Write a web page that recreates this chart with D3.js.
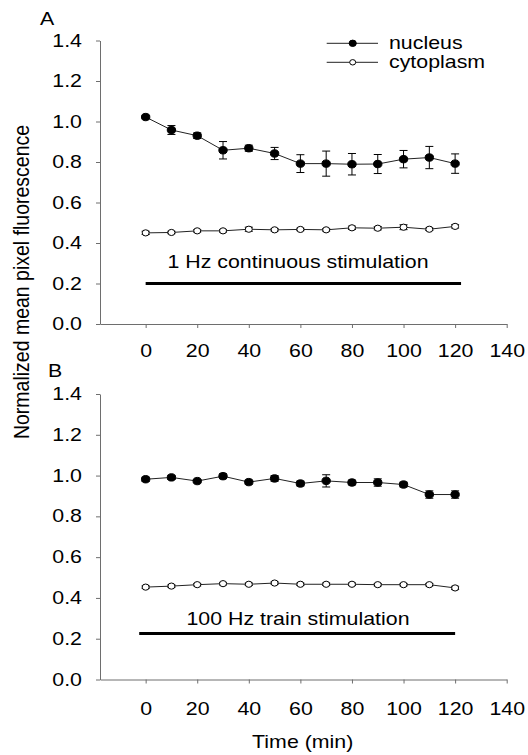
<!DOCTYPE html>
<html>
<head>
<meta charset="utf-8">
<script src="https://cdn.jsdelivr.net/npm/d3@7"></script>
<style>
  body { margin: 0; background: #fff; }
  text { font-family: "Liberation Sans", Arial, sans-serif; fill: #000; }
</style>
</head>
<body>
<div id="chart"></div>
<script>
// time points (min)
var times = [0, 10, 20, 30, 40, 50, 60, 70, 80, 90, 100, 110, 120];

// panel A - 1 Hz continuous stimulation
var nucA    = [1.022, 0.958, 0.930, 0.858, 0.868, 0.842, 0.792, 0.792, 0.789, 0.790, 0.814, 0.822, 0.792];
var nucAErr = [0.008, 0.022, 0.014, 0.043, 0.015, 0.030, 0.044, 0.062, 0.053, 0.047, 0.043, 0.055, 0.048];
var cytA    = [0.450, 0.452, 0.460, 0.460, 0.468, 0.465, 0.467, 0.465, 0.475, 0.473, 0.478, 0.468, 0.482];
var cytAErr = [0.008, 0.006, 0.006, 0.006, 0.010, 0.006, 0.006, 0.006, 0.008, 0.008, 0.012, 0.006, 0.008];

// panel B - 100 Hz train stimulation
var nucB    = [0.982, 0.991, 0.973, 0.997, 0.968, 0.986, 0.961, 0.974, 0.966, 0.966, 0.956, 0.907, 0.907];
var nucBErr = [0.010, 0.010, 0.008, 0.012, 0.010, 0.014, 0.012, 0.030, 0.012, 0.018, 0.012, 0.018, 0.018];
var cytB    = [0.453, 0.458, 0.465, 0.470, 0.467, 0.473, 0.467, 0.467, 0.467, 0.465, 0.465, 0.465, 0.449];
var cytBErr = [0.006, 0.006, 0.006, 0.006, 0.006, 0.006, 0.006, 0.006, 0.006, 0.006, 0.006, 0.006, 0.008];

// stimulation bars [start, end, level] and labels
var stimA = [0, 122.3, 0.2];
var stimB = [-2.5, 120, 0.225];
var stimLabels = ["1 Hz continuous stimulation", "100 Hz train stimulation"];

var xTicks = [0, 20, 40, 60, 80, 100, 120, 140];
var yTicks = [0, 0.2, 0.4, 0.6, 0.8, 1.0, 1.2, 1.4];

var svgWidth = 528;
var svgHeight = 755;
var SX = 1.22;    // text in the figure is stretched horizontally
var fs = 17.5;

var svg = d3.select("#chart")
  .append("svg")
  .attr("width", svgWidth)
  .attr("height", svgHeight);

// make text look wider like the reference
function stretch(sel) {
  sel.each(function() {
    var t = d3.select(this);
    var x = +t.attr("x") || 0, y = +t.attr("y") || 0;
    t.attr("x", 0).attr("y", 0)
      .attr("transform", `translate(${x},${y}) scale(${SX},1)`);
  });
}

var xScale = d3.scaleLinear().domain([-17.7, 140]).range([100, 506.7]);

function drawPanel(cfg) {
  var yScale = d3.scaleLinear().domain([0, 1.4]).range([cfg.bottom, cfg.top]);

  var g = svg.append("g");

  // axes
  var xAxis = g.append("g")
    .attr("transform", `translate(0, ${cfg.bottom})`)
    .call(d3.axisBottom(xScale).tickValues(xTicks).tickSize(4).tickSizeOuter(0).tickFormat(d3.format("d")));
  xAxis.selectAll("text").attr("y", cfg.xLabOff).attr("dy", 0);

  var yAxis = g.append("g")
    .attr("transform", `translate(100, 0)`)
    .call(d3.axisLeft(yScale).tickValues(yTicks).tickSize(4).tickSizeOuter(0).tickFormat(d3.format(".1f")));
  yAxis.selectAll("text").attr("x", -18);

  [xAxis, yAxis].forEach(function(ax) {
    ax.select(".domain").attr("stroke", "#6e6e6e");
    ax.selectAll(".tick line").attr("stroke", "#6e6e6e");
    ax.selectAll("text").attr("font-size", fs).attr("fill", "#000")
      .attr("font-family", "Liberation Sans, Arial, sans-serif");
    stretch(ax.selectAll("text"));
  });

  // stimulation bar
  g.append("line")
    .attr("x1", xScale(cfg.stim[0]))
    .attr("x2", xScale(cfg.stim[1]))
    .attr("y1", yScale(cfg.stim[2]))
    .attr("y2", yScale(cfg.stim[2]))
    .attr("stroke", "#000")
    .attr("stroke-width", 3);

  g.append("text")
    .attr("x", 298)
    .attr("y", yScale(cfg.stim[2]) - cfg.stimGap)
    .attr("text-anchor", "middle")
    .attr("font-size", fs)
    .text(cfg.stimLabel)
    .call(stretch);

  // panel letter
  g.append("text")
    .attr("x", cfg.letterX)
    .attr("y", cfg.letterY)
    .attr("font-size", fs)
    .text(cfg.letter)
    .call(stretch);

  // series
  var series = [
    { vals: cfg.nuc, err: cfg.nucErr, fill: "#000" },
    { vals: cfg.cyt, err: cfg.cytErr, fill: "#fff" }
  ];

  var line = d3.line()
    .x(function(d) { return xScale(d[0]); })
    .y(function(d) { return yScale(d[1]); });

  series.forEach(function(s) {
    var pts = times.map(function(t, i) { return [t, s.vals[i], s.err[i]]; });

    g.append("path")
      .datum(pts)
      .attr("d", line)
      .attr("fill", "none")
      .attr("stroke", "#222")
      .attr("stroke-width", 1);

    var eb = g.selectAll(null).data(pts).enter().append("g");
    eb.append("line")
      .attr("x1", d => xScale(d[0])).attr("x2", d => xScale(d[0]))
      .attr("y1", d => yScale(d[1] - d[2])).attr("y2", d => yScale(d[1] + d[2]))
      .attr("stroke", "#000");
    eb.append("line")
      .attr("x1", d => xScale(d[0]) - 4).attr("x2", d => xScale(d[0]) + 4)
      .attr("y1", d => yScale(d[1] + d[2])).attr("y2", d => yScale(d[1] + d[2]))
      .attr("stroke", "#000");
    eb.append("line")
      .attr("x1", d => xScale(d[0]) - 4).attr("x2", d => xScale(d[0]) + 4)
      .attr("y1", d => yScale(d[1] - d[2])).attr("y2", d => yScale(d[1] - d[2]))
      .attr("stroke", "#000");

    g.selectAll(null).data(pts).enter().append("ellipse")
      .attr("cx", d => xScale(d[0]))
      .attr("cy", d => yScale(d[1]))
      .attr("rx", s.fill === "#000" ? 4.2 : 3.5)
      .attr("ry", s.fill === "#000" ? 3.7 : 3.1)
      .attr("fill", s.fill)
      .attr("stroke", "#000")
      .attr("stroke-width", 1);
  });
}

drawPanel({
  top: 40.5, bottom: 324, xLabOff: 33,
  nuc: nucA, nucErr: nucAErr, cyt: cytA, cytErr: cytAErr,
  stim: stimA, stimLabel: stimLabels[0], stimGap: 16,
  letter: "A", letterX: 40, letterY: 25
});

drawPanel({
  top: 394, bottom: 679.5, xLabOff: 35,
  nuc: nucB, nucErr: nucBErr, cyt: cytB, cytErr: cytBErr,
  stim: stimB, stimLabel: stimLabels[1], stimGap: 9,
  letter: "B", letterX: 48, letterY: 377
});

// legend
var legendNames = ["nucleus", "cytoplasm"];
var legendFills = ["#000", "#fff"];
var legend = svg.append("g");
legendNames.forEach(function(name, i) {
  var ly = 43.3 + i * 19;
  legend.append("line")
    .attr("x1", 326.7).attr("x2", 378)
    .attr("y1", ly).attr("y2", ly)
    .attr("stroke", "#222");
  legend.append("ellipse")
    .attr("cx", 352.7).attr("cy", ly)
    .attr("rx", i === 0 ? 3.6 : 3).attr("ry", i === 0 ? 3.2 : 2.7)
    .attr("fill", legendFills[i]).attr("stroke", "#000");
  legend.append("text")
    .attr("x", 389).attr("y", ly + 6)
    .attr("font-size", fs)
    .text(name)
    .call(stretch);
});

// axis titles
svg.append("text")
  .attr("transform", "translate(28.5, 282) scale(1.1,1) rotate(-90)")
  .attr("text-anchor", "middle")
  .attr("font-size", 19.5)
  .text("Normalized mean pixel fluorescence");

svg.append("text")
  .attr("x", 302.7)
  .attr("y", 748)
  .attr("text-anchor", "middle")
  .attr("font-size", fs)
  .text("Time (min)")
  .call(stretch);
</script>
</body>
</html>
